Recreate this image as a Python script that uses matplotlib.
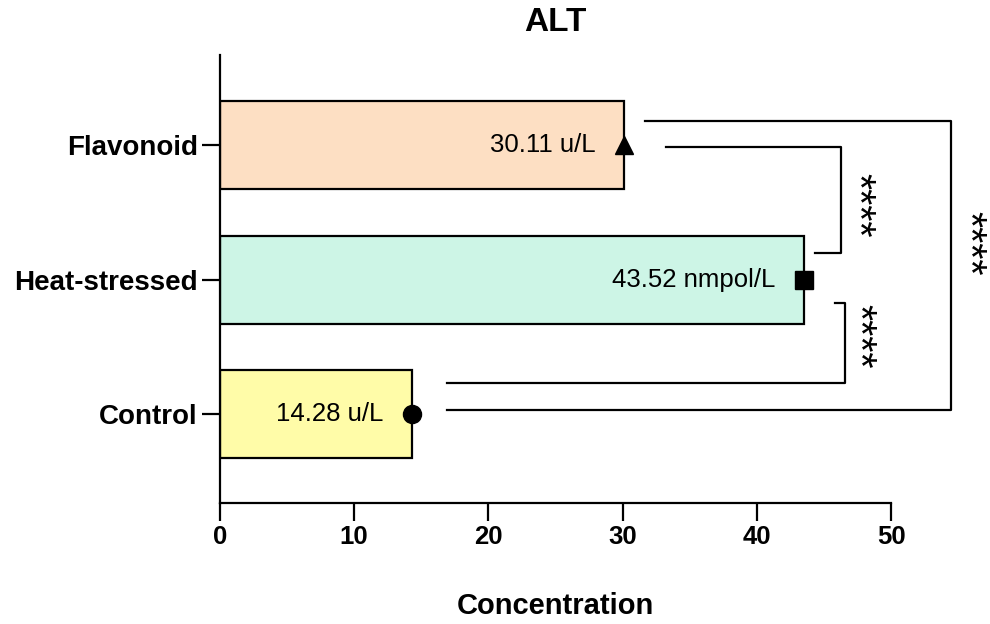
import matplotlib
matplotlib.use("Agg")
import matplotlib.pyplot as plt

plt.rcParams['font.family'] = ['Liberation Sans', 'DejaVu Sans']

categories = ["Control", "Heat-stressed", "Flavonoid"]
values = [14.28, 43.52, 30.11]
value_labels = ["14.28 u/L", "43.52 nmpol/L", "30.11 u/L"]
colors = ["#FFFCA8", "#CDF5E6", "#FDDFC3"]
markers = ["o", "s", "^"]
xticks = [0, 10, 20, 30, 40, 50]

fig = plt.figure(figsize=(9.9, 6.24), dpi=100)
ax = fig.add_axes([0.2222, 0.1939, 0.9 - 0.2222, 0.9119 - 0.1939])

ypos = list(range(len(categories)))
ax.barh(ypos, values, height=0.655, color=colors, edgecolor="black", linewidth=1.6, zorder=2)
for y, v, m, lab in zip(ypos, values, markers, value_labels):
    ax.plot([v], [y], marker=m, color="black", markersize=13, zorder=4, clip_on=False)
    ax.text(v - 2.1, y, lab, ha="right", va="center", fontsize=18.5, zorder=5)

lw = 1.6
star_kw = dict(rotation=270, ha="center", va="center", fontsize=30,
               rotation_mode="anchor")
# Flavonoid vs Heat-stressed
ax.plot([33.2, 46.3, 46.3, 44.3], [1.985, 1.985, 1.2, 1.2], color="black", lw=lw, clip_on=False)
ax.text(47.4, 1.554, "****", **star_kw)
# Heat-stressed vs Control
ax.plot([45.8, 46.6, 46.6, 16.9], [0.83, 0.83, 0.23, 0.23], color="black", lw=lw, clip_on=False)
ax.text(47.5, 0.576, "****", **star_kw)
# Flavonoid vs Control
ax.plot([31.7, 54.5, 54.5, 16.9], [2.18, 2.18, 0.03, 0.03], color="black", lw=lw, clip_on=False)
ax.text(55.7, 1.268, "****", **star_kw)

ax.set_xlim(0, 50)
ax.set_ylim(-0.66, 2.67)
ax.set_xticks(xticks)
ax.set_xticklabels([str(t) for t in xticks], fontsize=18.5, fontweight="bold")
ax.set_yticks(ypos)
ax.set_yticklabels(categories, fontsize=20, fontweight="bold")
for s in ["top", "right"]:
    ax.spines[s].set_visible(False)
for s in ["left", "bottom"]:
    ax.spines[s].set_linewidth(1.6)
ax.tick_params(axis="both", length=13, width=1.6, pad=3)
ax.set_xlabel("Concentration", fontsize=21, fontweight="bold", labelpad=31)
ax.set_title("ALT", fontsize=24, fontweight="bold", pad=17)

fig.savefig("out.png", dpi=100)
